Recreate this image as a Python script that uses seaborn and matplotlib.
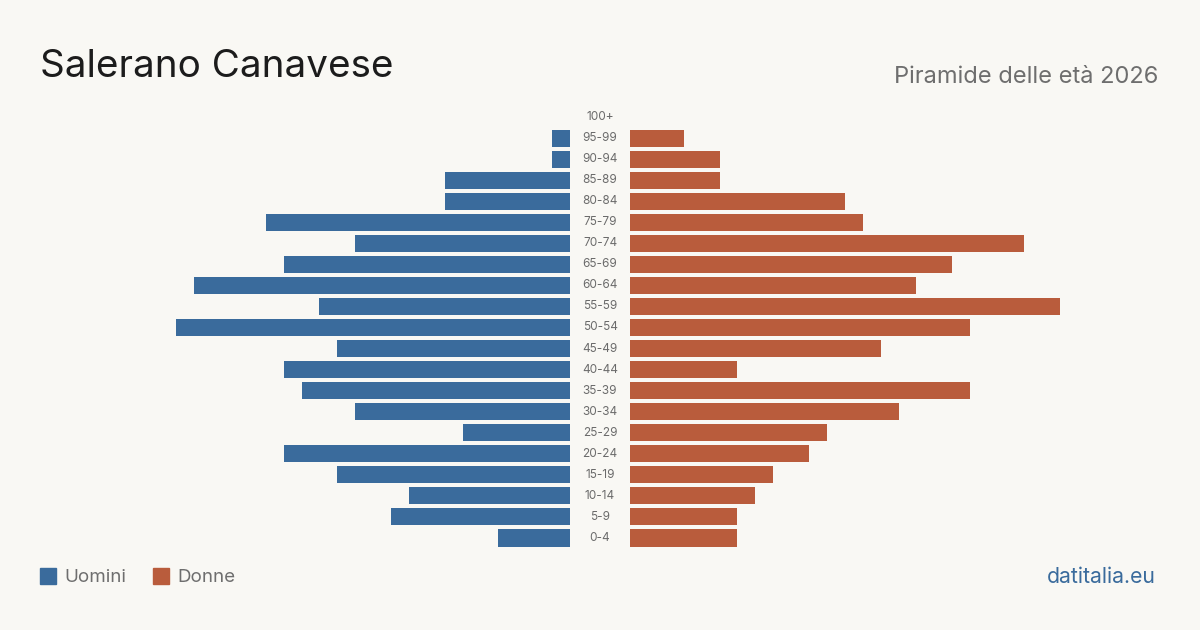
import pandas as pd
import seaborn as sns
import matplotlib.pyplot as plt
from matplotlib.transforms import blended_transform_factory
from matplotlib.patches import Rectangle

# dati
age_groups = ["100+", "95-99", "90-94", "85-89", "80-84", "75-79", "70-74", "65-69",
              "60-64", "55-59", "50-54", "45-49", "40-44", "35-39", "30-34", "25-29",
              "20-24", "15-19", "10-14", "5-9", "0-4"]
uomini = [0, 1, 1, 7, 7, 17, 12, 16, 21, 14, 22, 13, 16, 15, 12, 6, 16, 13, 9, 10, 4]
donne = [0, 3, 5, 5, 12, 13, 22, 18, 16, 24, 19, 14, 6, 19, 15, 11, 10, 8, 7, 6, 6]

BG = "#f9f8f4"
BLUE = "#3a6b9c"
ORANGE = "#b95c3c"

df = pd.DataFrame({"eta": age_groups, "Uomini": uomini, "Donne": donne})

sns.set_theme(style="white")
plt.rcParams["font.family"] = ["Inter", "DejaVu Sans"]

fig = plt.figure(figsize=(12, 6.3), dpi=100, facecolor=BG)

W, H = 1200, 630
bottom = 1 - 548.5 / H
height = 442 / H
xmax = 570 / 17.9

ax_l = fig.add_axes([0, bottom, 570 / W, height])
ax_r = fig.add_axes([630 / W, bottom, 570 / W, height])

sns.barplot(data=df, y="eta", x="Uomini", order=age_groups, color=BLUE,
            width=0.81, saturation=1, linewidth=0, ax=ax_l)
sns.barplot(data=df, y="eta", x="Donne", order=age_groups, color=ORANGE,
            width=0.81, saturation=1, linewidth=0, ax=ax_r)

ax_l.set_xlim(xmax, 0)
ax_r.set_xlim(0, xmax)
for ax in (ax_l, ax_r):
    ax.set_ylim(len(age_groups) - 0.5, -0.5)
    ax.set_facecolor("none")
    ax.axis("off")

# etichette centrali
tr = blended_transform_factory(fig.transFigure, ax_r.transData)
for i, g in enumerate(age_groups):
    ax_r.text(600 / W, i, g, transform=tr, ha="center", va="center",
              fontsize=8.5, color="#6b6b6b", clip_on=False)

# titoli
fig.text(40 / W, 1 - 67 / H, "Salerano Canavese", fontsize=27.8, color="#1c1c1c",
         ha="left", va="center")
fig.text(1158 / W, 1 - 77 / H, "Piramide delle età 2026", fontsize=17,
         color="#6e6e6e", ha="right", va="center")

# legenda
fig.patches.append(Rectangle((40 / W, 1 - 584 / H), 16 / W, 16 / H,
                             transform=fig.transFigure, color=BLUE))
fig.text(64 / W, 1 - 577.5 / H, "Uomini", fontsize=13.5, color="#6e6e6e",
         ha="left", va="center")
fig.patches.append(Rectangle((153 / W, 1 - 584 / H), 16 / W, 16 / H,
                             transform=fig.transFigure, color=ORANGE))
fig.text(177 / W, 1 - 577.5 / H, "Donne", fontsize=13.5, color="#6e6e6e",
         ha="left", va="center")

fig.text(1156 / W, 1 - 577 / H, "datitalia.eu", fontsize=15.3, color=BLUE,
         ha="right", va="center")

fig.savefig("out.png", dpi=100, facecolor=BG)
